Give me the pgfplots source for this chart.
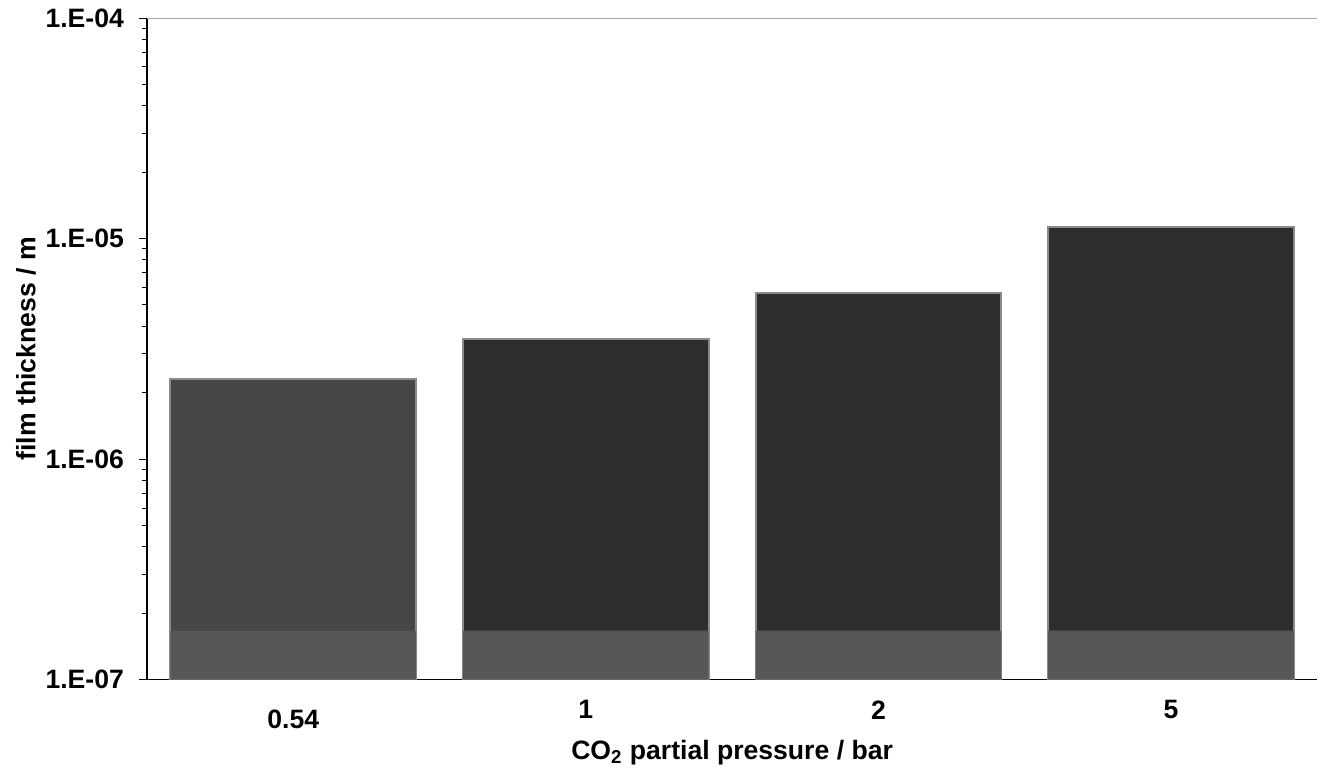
\documentclass[border=0pt]{standalone}
\usepackage{pgfplots}
\pgfplotsset{compat=1.18}
\usepackage{fontspec}
\setmainfont{Liberation Sans}

\definecolor{barA}{HTML}{474747}
\definecolor{barB}{HTML}{2E2E2E}
\definecolor{barBase}{HTML}{575757}
\definecolor{barTop}{HTML}{8A8A8A}

\begin{document}
\begin{tikzpicture}[font=\fontsize{13.3}{16}\selectfont\bfseries]
\begin{axis}[
  scale only axis,
  width=585.5pt, height=331pt,
  ymode=log,
  log origin y=infty,
  ymin=1e-7, ymax=1e-4,
  xmin=-0.5, xmax=3.5,
  ytick={1e-7,1e-6,1e-5,1e-4},
  yticklabels={1.E-07,1.E-06,1.E-05,1.E-04},
  xtick={0,1,2,3},
  xticklabels={{\raisebox{-4.5pt}[\height]{0.54}},1,2,5},
  xtick style={draw=none},
  tick align=outside,
  major tick length=4pt,
  minor tick length=2.5pt,
  every tick/.style={black, line width=0.5pt},
  axis x line*=bottom,
  axis y line*=left,
  axis line style={line width=0.7pt, -},
  yticklabel style={xshift=-4pt},
  xticklabel style={yshift=-3pt},
  xlabel={CO\textsubscript{2} partial pressure / bar},
  ylabel={film thickness / m},
  xlabel style={yshift=1pt},
  ylabel style={yshift=-2pt},
  /pgf/number format/assume math mode=true,
  ybar, bar width=0.84, bar shift=0pt,
]
% measured film thickness
\addplot[fill=barA, draw=barTop, line width=1pt] coordinates {(0,2.31e-6)};
\addplot[fill=barB, draw=barTop, line width=1pt] coordinates {(1,3.50e-6) (2,5.65e-6) (3,1.13e-5)};
% lighter base band of each column
\addplot[fill=barBase, draw=none] coordinates {(0,1.67e-7) (1,1.67e-7) (2,1.67e-7) (3,1.67e-7)};
\draw[gray!70, line width=0.8pt] (rel axis cs:0,1) -- (rel axis cs:1,1);
\end{axis}
\path (current axis.south west) ++(-73.5pt,-49pt) coordinate (bbA);
\path (current axis.north east) ++(0pt,9pt) coordinate (bbB);
\useasboundingbox (bbA) rectangle (bbB);
\end{tikzpicture}
\end{document}
